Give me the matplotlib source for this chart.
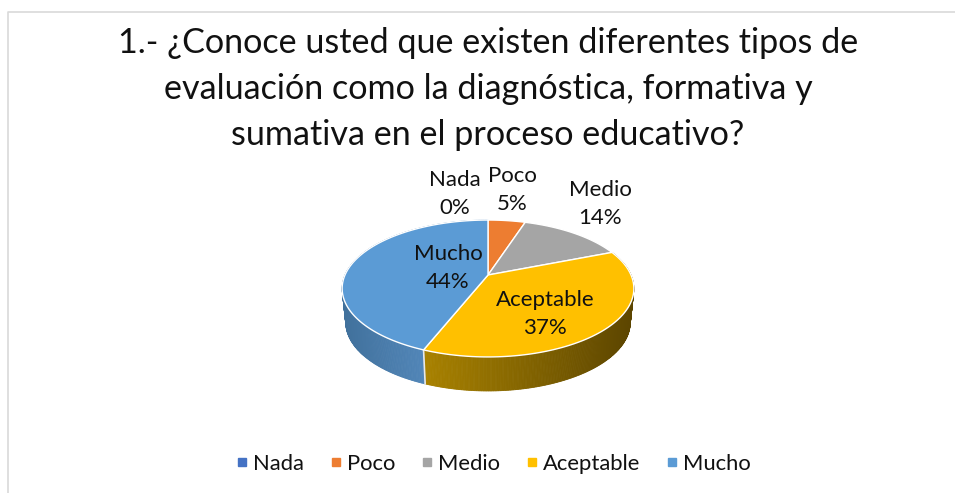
import numpy as np
import matplotlib
matplotlib.use("Agg")
import matplotlib.pyplot as plt
from matplotlib.colors import to_rgb
from matplotlib.lines import Line2D

plt.rcParams["font.family"] = ["Lato", "DejaVu Sans"]

# Data
categories = ["Nada", "Poco", "Medio", "Aceptable", "Mucho"]
percent = [0, 5, 14, 37, 44]
colors = ["#4472C4", "#ED7D31", "#A5A5A5", "#FFC000", "#5B9BD5"]
title = ("1.- ¿Conoce usted que existen diferentes tipos de\n"
         "evaluación como la diagnóstica, formativa y\n"
         "sumativa en el proceso educativo?")

# Pie geometry, in pixels of the image
CX, CY = 488, 275
A, B, K = 143, 65.8, 0.197
DEPTH = 34
WALL_SHRINK = 0.975

label_xy = [(455, 194), (512, 190), (600, 204), (545, 314), (448, 268)]
wall_shades = {
    "Aceptable": ("#A98200", "#5C4500"),
    "Mucho": ("#41719C", "#5E96CE"),
}


def top_xy(theta):
    """Clockwise angle from 12 o'clock to a point on the tilted pie rim."""
    u, v = np.sin(theta), -np.cos(theta)
    d = 1 - K * v
    return CX + A * u / d, CY + B * v / d


def bottom_xy(theta):
    x, y = top_xy(theta)
    return CX + (x - CX) * WALL_SHRINK, y + DEPTH


fig = plt.figure(figsize=(9.55, 4.93), dpi=100)
ax = fig.add_axes([0, 0, 1, 1])
ax.set_xlim(0, 955)
ax.set_ylim(493, 0)
ax.axis("off")

# chart frame, only left and top are in the crop
ax.plot([8, 8, 955], [493, 12, 12], color="#D9D9D9", lw=1.2)

edges = np.deg2rad(np.cumsum([0] + percent) * 3.6)

# walls first
for i, name in enumerate(categories):
    if name not in wall_shades:
        continue
    c0, c1 = map(np.array, map(to_rgb, wall_shades[name]))
    th = np.linspace(edges[i], edges[i + 1], 240)
    x_top, y_top = top_xy(th)
    x_bot, y_bot = bottom_xy(th)
    x_lo, x_hi = x_top.min(), x_top.max()
    for j in range(len(th) - 1):
        t = (x_top[j] - x_lo) / (x_hi - x_lo)
        ax.fill([x_top[j], x_top[j + 1], x_bot[j + 1], x_bot[j]],
                [y_top[j], y_top[j + 1], y_bot[j + 1], y_bot[j]],
                color=c0 + (c1 - c0) * t, lw=0.6, zorder=2)

# seam where the two walls meet
seam = edges[4]
sx0, sy0 = top_xy(seam)
sx1, sy1 = bottom_xy(seam)
ax.plot([sx0, sx1], [sy0, sy1], color="#E8E8E8", lw=1.2, zorder=3)

# top of the pie
for i, name in enumerate(categories):
    if percent[i] == 0:
        continue
    th = np.linspace(edges[i], edges[i + 1], 120)
    x, y = top_xy(th)
    ax.fill(np.r_[CX, x], np.r_[CY, y], facecolor=colors[i],
            edgecolor="white", lw=1.0, joinstyle="round", zorder=4)

for name, val, (x, y) in zip(categories, percent, label_xy):
    ax.text(x, y, f"{name}\n{val}%", ha="center", va="center", fontsize=16,
            color="#111111", linespacing=1.5, zorder=6)

ax.text(488, 89, title, ha="center", va="center", fontsize=24.6,
        color="#111111", linespacing=1.54)

handles = [Line2D([], [], ls="", marker="s", ms=6, color=c, label=n)
           for n, c in zip(categories, colors)]
ax.legend(handles=handles, loc="center", bbox_to_anchor=(491, 464),
          bbox_transform=ax.transData, ncol=5, frameon=False, fontsize=15.8,
          handlelength=1.0, handletextpad=0.0, columnspacing=0.95,
          labelcolor="#111111")

fig.savefig("out.png", dpi=100)
